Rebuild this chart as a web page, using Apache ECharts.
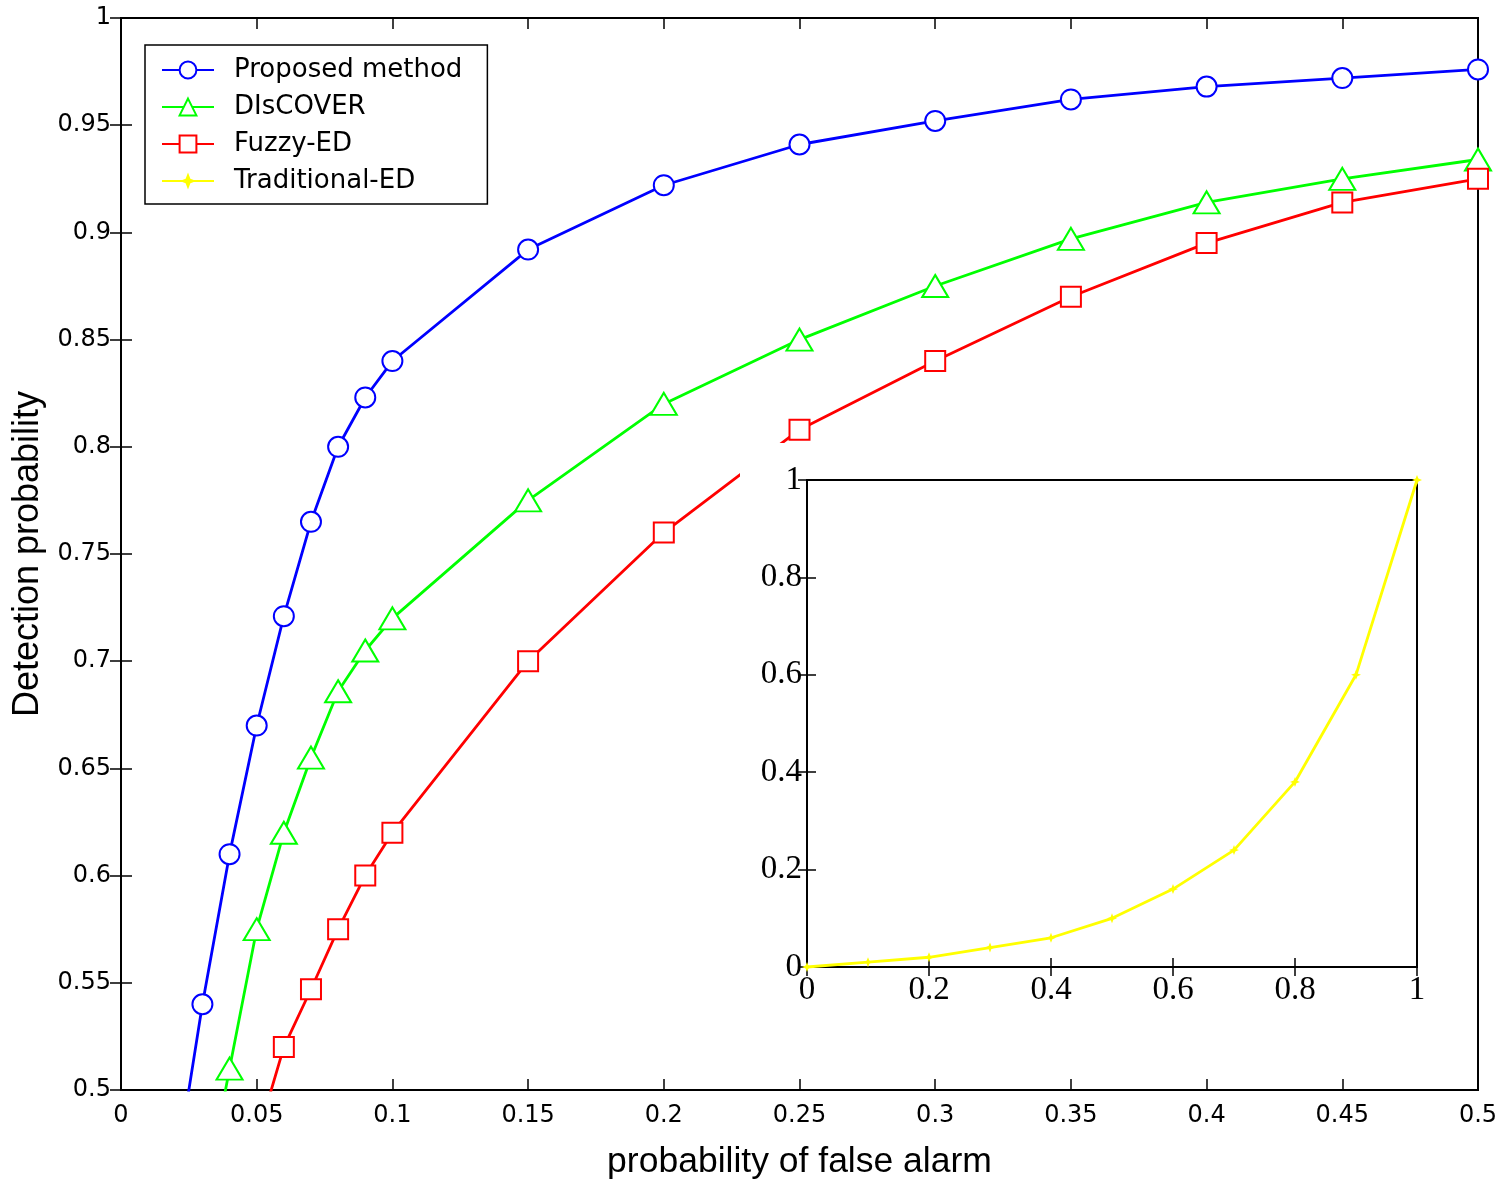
<!DOCTYPE html>
<html>
<head>
<meta charset="utf-8">
<script src="https://cdn.jsdelivr.net/npm/echarts@6/dist/echarts.min.js"></script>
<style>
html,body{margin:0;padding:0;background:#fff;}
#chart{width:1498px;height:1182px;}
</style>
</head>
<body>
<div id="chart"></div>
<script>
// ---- data ----
const proposedX = [0.02, 0.03, 0.04, 0.05, 0.06, 0.07, 0.08, 0.09, 0.1, 0.15, 0.2, 0.25, 0.3, 0.35, 0.4, 0.45, 0.5];
const proposedY = [0.46, 0.540, 0.610, 0.670, 0.721, 0.765, 0.800, 0.823, 0.840, 0.892, 0.922, 0.941, 0.952, 0.962, 0.968, 0.972, 0.976];
const discoverX = [0.03, 0.04, 0.05, 0.06, 0.07, 0.08, 0.09, 0.1, 0.15, 0.2, 0.25, 0.3, 0.35, 0.4, 0.45, 0.5];
const discoverY = [0.443, 0.510, 0.575, 0.620, 0.655, 0.686, 0.705, 0.720, 0.775, 0.820, 0.850, 0.875, 0.897, 0.914, 0.925, 0.934];
const fuzzyX = [0.05, 0.06, 0.07, 0.08, 0.09, 0.1, 0.15, 0.2, 0.25, 0.3, 0.35, 0.4, 0.45, 0.5];
const fuzzyY = [0.477, 0.520, 0.547, 0.575, 0.600, 0.620, 0.700, 0.760, 0.808, 0.840, 0.870, 0.895, 0.914, 0.925];
const tradX = [0, 0.1, 0.2, 0.3, 0.4, 0.5, 0.6, 0.7, 0.8, 0.9, 1.0];
const tradY = [0, 0.01, 0.02, 0.04, 0.06, 0.10, 0.16, 0.24, 0.38, 0.60, 1.0];
const seriesNames = ['Proposed method', 'DIsCOVER', 'Fuzzy-ED', 'Traditional-ED'];
const xAxisTitle = 'probability of false alarm';
const yAxisTitle = 'Detection probability';

function pts(xs, ys, lo) {
  return xs.map((x, i) => ys[i] < lo ? {value: [x, ys[i]], symbol: 'none'} : [x, ys[i]]);
}

const tickFont = 'DejaVu Sans, Verdana, sans-serif';
const sans = 'Liberation Sans, Arial, Helvetica, sans-serif';
const serif = 'Liberation Serif, Times New Roman, serif';
const axLine = {show: true, lineStyle: {color: '#000', width: 2}};
const tickIn = {show: true, inside: true, length: 11, lineStyle: {color: '#000', width: 1.5}};
const tickInS = {show: true, inside: true, length: 9, lineStyle: {color: '#000', width: 1.5}};
const starPath = 'path://M0,-10L2.8,-2.8L10,0L2.8,2.8L0,10L-2.8,2.8L-10,0L-2.8,-2.8Z';

const chart = echarts.init(document.getElementById('chart'), null, {renderer: 'canvas'});
chart.setOption({
  animation: false,
  backgroundColor: '#fff',
  graphic: {
    elements: [{
      type: 'rect', z: 50, zlevel: 0,
      shape: {x: 740, y: 443, width: 712, height: 575},
      style: {fill: '#fff'}
    }]
  },
  grid: [
    {left: 121, right: 20, top: 18, bottom: 92, show: true, borderColor: '#000', borderWidth: 2,
     backgroundColor: 'transparent', outerBoundsMode: 'none', containLabel: false},
    {left: 807, top: 480, width: 610, height: 487, show: true, borderColor: '#000', borderWidth: 2,
     backgroundColor: '#fff', z: 60, outerBoundsMode: 'none', containLabel: false}
  ],
  legend: {
    left: 145, top: 45, orient: 'vertical',
    padding: [12, 25, 10, 16],
    itemGap: 11, itemWidth: 52, itemHeight: 21,
    borderColor: '#000', borderWidth: 1.5, backgroundColor: '#fff',
    textStyle: {fontFamily: tickFont, fontSize: 26, color: '#000', padding: [0, 0, 0, 15]},
    data: seriesNames
  },
  xAxis: [
    {type: 'value', gridIndex: 0, min: 0, max: 0.5, interval: 0.05, position: 'bottom',
     axisLine: axLine, axisTick: tickIn, splitLine: {show: false},
     axisLabel: {fontFamily: tickFont, fontSize: 24, color: '#000', margin: 14},
     name: xAxisTitle, nameLocation: 'middle', nameGap: 54,
     nameTextStyle: {fontFamily: sans, fontSize: 35.5, color: '#000'}},
    {type: 'value', gridIndex: 0, min: 0, max: 0.5, interval: 0.05, position: 'top',
     axisLine: axLine, axisTick: tickIn, splitLine: {show: false}, axisLabel: {show: false}},
    {type: 'value', gridIndex: 1, min: 0, max: 1, interval: 0.2, position: 'bottom', z: 61,
     axisLine: axLine, axisTick: tickInS, splitLine: {show: false},
     axisLabel: {fontFamily: serif, fontSize: 33, color: '#000', margin: 7}},
    {type: 'value', gridIndex: 1, min: 0, max: 1, interval: 0.2, position: 'top', z: 61,
     axisLine: axLine, axisTick: tickInS, splitLine: {show: false}, axisLabel: {show: false}}
  ],
  yAxis: [
    {type: 'value', gridIndex: 0, min: 0.5, max: 1, interval: 0.05, position: 'left',
     axisLine: axLine, axisTick: tickIn, splitLine: {show: false},
     axisLabel: {fontFamily: tickFont, fontSize: 24, color: '#000', margin: 10},
     name: yAxisTitle, nameLocation: 'middle', nameGap: 75, nameRotate: 90,
     nameTextStyle: {fontFamily: sans, fontSize: 36, color: '#000'}},
    {type: 'value', gridIndex: 0, min: 0.5, max: 1, interval: 0.05, position: 'right',
     axisLine: axLine, axisTick: tickIn, splitLine: {show: false}, axisLabel: {show: false}},
    {type: 'value', gridIndex: 1, min: 0, max: 1, interval: 0.2, position: 'left', z: 61,
     axisLine: axLine, axisTick: tickInS, splitLine: {show: false},
     axisLabel: {fontFamily: serif, fontSize: 33, color: '#000', margin: 5}},
    {type: 'value', gridIndex: 1, min: 0, max: 1, interval: 0.2, position: 'right', z: 61,
     axisLine: axLine, axisTick: tickInS, splitLine: {show: false}, axisLabel: {show: false}}
  ],
  series: [
    {name: seriesNames[0], type: 'line', xAxisIndex: 0, yAxisIndex: 0, data: pts(proposedX, proposedY, 0.5),
     color: '#0000ff', lineStyle: {width: 2.8}, symbol: 'emptyCircle', symbolSize: 20,
     itemStyle: {borderWidth: 2.5, color: '#0000ff'}, clip: true},
    {name: seriesNames[1], type: 'line', xAxisIndex: 0, yAxisIndex: 0, data: pts(discoverX, discoverY, 0.5),
     color: '#00ff00', lineStyle: {width: 2.8}, symbol: 'emptyTriangle', symbolSize: [26, 22],
     itemStyle: {borderWidth: 2.5, color: '#00ff00'}, clip: true},
    {name: seriesNames[2], type: 'line', xAxisIndex: 0, yAxisIndex: 0, data: pts(fuzzyX, fuzzyY, 0.5),
     color: '#ff0000', lineStyle: {width: 2.8}, symbol: 'emptyRect', symbolSize: 20,
     itemStyle: {borderWidth: 2.5, color: '#ff0000'}, clip: true},
    {name: seriesNames[3], type: 'line', xAxisIndex: 2, yAxisIndex: 2, data: pts(tradX, tradY, -1), z: 62,
     color: '#ffff00', lineStyle: {width: 2.8}, symbol: starPath, symbolSize: 10,
     itemStyle: {color: '#ffff00'}, clip: false}
  ]
});
</script>
</body>
</html>
